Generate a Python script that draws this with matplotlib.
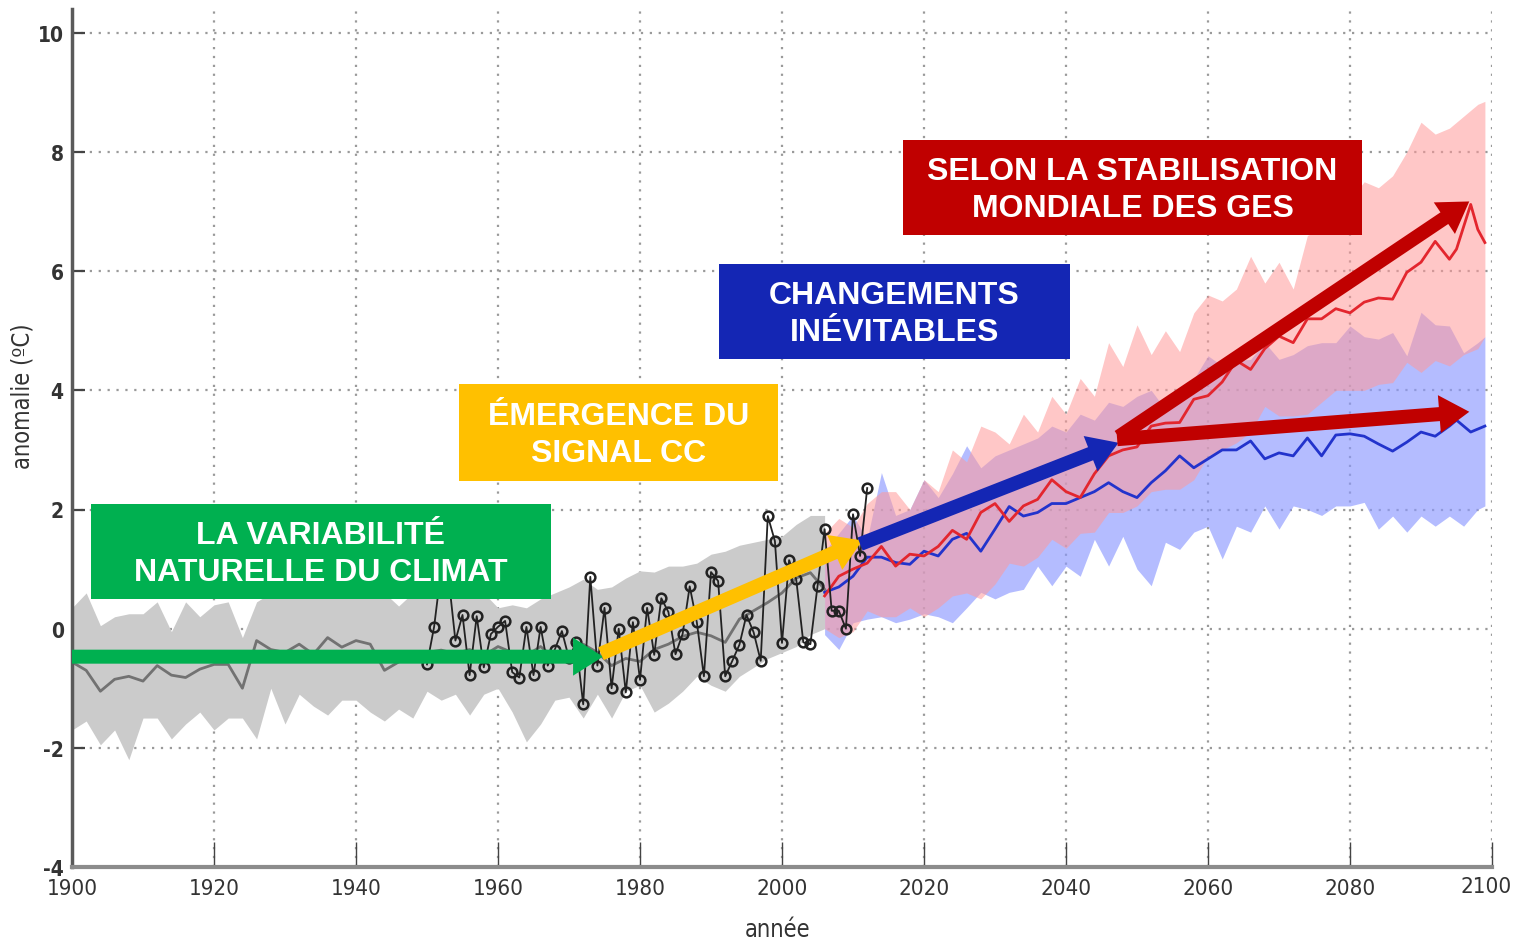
import matplotlib
matplotlib.use('Agg')
import matplotlib.pyplot as plt
from matplotlib.patches import Rectangle, FancyArrowPatch, ArrowStyle

plt.rcParams['axes.unicode_minus'] = False

# --- historical simulations (grey band + mean), every 2 years
hist_years = list(range(1900, 2008, 2))
gray_upper = [0.35, 0.6, 0.05, 0.2, 0.25, 0.25, 0.45, -0.05, 0.45, 0.2,
              0.4, 0.45, -0.15, 0.45, 0.6, 0.7, 0.6, 0.75, 0.6, 0.7,
              0.65, 0.7, 0.6, 0.38, 0.6, 0.8, 0.7, 0.75, 0.6, 0.6,
              0.35, 0.4, 0.35, 0.5, 0.6, 0.7, 0.83, 0.66, 0.7, 0.85,
              0.97, 0.95, 1.05, 1.05, 1.1, 1.25, 1.3, 1.4, 1.45, 1.5,
              1.55, 1.75, 1.9, 1.9]
gray_lower = [-1.7, -1.55, -1.95, -1.7, -2.2, -1.5, -1.5, -1.85, -1.6, -1.4,
              -1.7, -1.5, -1.5, -1.85, -1.0, -1.6, -1.1, -1.3, -1.45, -1.2,
              -1.2, -1.4, -1.55, -1.35, -1.5, -1.05, -1.2, -1.1, -1.45, -1.1,
              -1.0, -1.4, -1.9, -1.6, -1.2, -1.15, -1.5, -1.1, -1.5, -1.05,
              -0.95, -1.4, -1.25, -1.05, -0.8, -0.95, -1.05, -0.8, -0.65, -0.5,
              -0.4, -0.3, -0.1, 0.0]
gray_mean = [-0.56, -0.7, -1.05, -0.85, -0.8, -0.88, -0.62, -0.78, -0.82, -0.68,
             -0.6, -0.6, -1.0, -0.2, -0.35, -0.4, -0.26, -0.43, -0.15, -0.31,
             -0.2, -0.26, -0.7, -0.56, -0.45, -0.4, -0.36, -0.42, -0.35, -0.45,
             -0.3, -0.4, -0.45, -0.3, -0.5, -0.5, -0.26, -0.4, -0.62, -0.5,
             -0.55, -0.35, -0.26, -0.13, -0.06, -0.12, -0.23, 0.16, 0.3, 0.44,
             0.6, 0.85, 0.94, 0.66]

# --- observations (black line with circles)
obs_years = list(range(1950, 2013))
obs_values = [-0.6, 0.03, 1.0, 0.9, -0.2, 0.23, -0.78, 0.21, -0.65, -0.09,
              0.03, 0.13, -0.73, -0.82, 0.03, -0.78, 0.03, -0.62, -0.35, -0.04,
              -0.5, -0.23, -1.27, 0.87, -0.62, 0.35, -1.0, 0.0, -1.07, 0.11,
              -0.86, 0.35, -0.44, 0.51, 0.28, -0.43, -0.09, 0.71, 0.11, -0.8,
              0.95, 0.8, -0.8, -0.54, -0.27, 0.23, -0.06, -0.54, 1.89, 1.47,
              -0.24, 1.15, 0.83, -0.23, -0.26, 0.71, 1.67, 0.3, 0.3, 0.0,
              1.92, 1.22, 2.36]

# --- projections: bands
proj_years = list(range(2006, 2100, 2)) + [2099]
red_upper = [1.6, 1.85, 1.7, 2.1, 2.3, 2.3, 2.0, 2.5, 2.3, 3.0,
             2.8, 3.4, 3.3, 3.1, 3.6, 3.3, 3.9, 3.6, 4.2, 3.9,
             4.8, 4.4, 5.1, 4.6, 5.0, 4.65, 5.3, 5.6, 5.5, 5.7,
             6.25, 5.8, 6.15, 5.7, 6.6, 6.7, 7.35, 7.2, 7.5, 7.4,
             7.6, 8.0, 8.5, 8.3, 8.4, 8.6, 8.8, 8.85]
red_lower = [0.0, -0.15, -0.05, 0.3, 0.2, 0.2, 0.35, 0.2, 0.35, 0.55,
             0.6, 0.5, 0.75, 1.1, 1.05, 1.2, 1.5, 1.35, 1.6, 1.62,
             1.95, 1.95, 2.06, 2.3, 2.34, 2.34, 2.5, 2.9, 3.0, 3.12,
             3.3, 3.73, 3.57, 3.57, 3.6, 3.8, 4.0, 4.0, 4.0, 4.1,
             4.13, 4.47, 4.3, 4.5, 4.41, 4.6, 4.7, 4.9]
blue_upper = [1.3, 1.6, 1.9, 1.5, 2.62, 1.9, 2.0, 2.5, 2.2, 2.6,
              3.07, 2.7, 2.9, 3.0, 3.1, 3.2, 3.4, 3.3, 3.6, 3.5,
              3.8, 3.73, 3.9, 4.0, 3.68, 4.0, 4.19, 4.58, 4.41, 4.5,
              4.52, 4.8, 4.52, 4.6, 4.75, 4.8, 4.8, 5.08, 4.9, 4.86,
              4.97, 4.58, 5.31, 5.1, 5.08, 4.63, 4.8, 4.9]
blue_lower = [-0.1, -0.35, 0.1, 0.16, 0.2, 0.1, 0.16, 0.25, 0.2, 0.1,
              0.35, 0.61, 0.5, 0.61, 0.66, 1.05, 0.72, 1.05, 0.88, 1.5,
              1.05, 1.55, 1.0, 0.72, 1.45, 1.33, 1.62, 1.72, 1.17, 1.72,
              1.62, 2.06, 1.67, 2.06, 2.0, 1.9, 2.06, 2.06, 2.12, 1.67,
              1.89, 1.62, 1.89, 1.72, 1.89, 1.72, 2.0, 2.06]

# --- projections: ensemble means
line_years = list(range(2006, 2094, 2)) + [2094, 2095, 2097, 2098, 2099]
red_line = [0.55, 0.88, 1.0, 1.1, 1.38, 1.05, 1.25, 1.22, 1.38, 1.65,
            1.5, 1.95, 2.1, 1.8, 2.06, 2.17, 2.5, 2.3, 2.2, 2.6,
            2.9, 3.0, 3.05, 3.4, 3.45, 3.46, 3.85, 3.91, 4.14, 4.5,
            4.35, 4.7, 4.91, 4.8, 5.2, 5.2, 5.37, 5.3, 5.48, 5.55,
            5.53, 5.98, 6.15, 6.5,
            6.2, 6.37, 7.12, 6.7, 6.48]
blue_line = [0.61, 0.7, 0.88, 1.2, 1.2, 1.11, 1.08, 1.3, 1.22, 1.5,
             1.6, 1.3, 1.67, 2.05, 1.89, 1.95, 2.1, 2.1, 2.2, 2.3,
             2.45, 2.3, 2.2, 2.45, 2.65, 2.9, 2.7, 2.85, 3.0, 3.0,
             3.15, 2.85, 2.95, 2.9, 3.2, 2.9, 3.25, 3.27, 3.23, 3.1,
             2.98, 3.13, 3.3, 3.23,
             3.4, 3.5, 3.3, 3.35, 3.4]

x_ticks = list(range(1900, 2101, 20))
y_ticks = list(range(-4, 11, 2))

# arrows: (start, end, colour), in data units
arrows = [
    ((1900, -0.47), (1974.8, -0.47), '#00B050'),
    ((1974.5, -0.42), (2011.3, 1.48), '#FFC000'),
    ((2011.0, 1.42), (2047.4, 3.12), '#1426B4'),
    ((2047.4, 3.22), (2096.8, 7.17), '#C00000'),
    ((2047.2, 3.18), (2096.8, 3.64), '#C00000'),
]

# label boxes: pixel box (x0, y0, x1, y1), colour, text
boxes = [
    ((91, 505, 551, 600), '#00B050', 'LA VARIABILITÉ\nNATURELLE DU CLIMAT'),
    ((459, 385, 778, 482), '#FFC000', 'ÉMERGENCE DU\nSIGNAL CC'),
    ((719, 265, 1070, 360), '#1426B4', 'CHANGEMENTS\nINÉVITABLES'),
    ((903, 141, 1362, 236), '#C00000', 'SELON LA STABILISATION\nMONDIALE DES GES'),
]

W, H = 1514, 945
cond = dict(family='DejaVu Sans', stretch='condensed')

fig = plt.figure(figsize=(W / 100, H / 100), dpi=100)
ax = fig.add_axes([72 / W, 77 / H, 1420 / W, 858 / H])

# historical
ax.fill_between(hist_years, gray_lower, gray_upper, color='#cbcbcb', lw=0, zorder=1)
ax.plot(hist_years, gray_mean, color='#727272', lw=2, zorder=2)

# projections
ax.fill_between(proj_years, blue_lower, blue_upper, color=(0.55, 0.6, 1.0), alpha=0.65, lw=0, zorder=1)
ax.fill_between(proj_years, red_lower, red_upper, color=(1.0, 0.6, 0.6), alpha=0.55, lw=0, zorder=1)
ax.plot(line_years, blue_line, color='#2233cc', lw=2, zorder=3)
ax.plot(line_years, red_line, color='#e3262e', lw=2, zorder=3)

ax.plot(obs_years, obs_values, color='#222222', lw=1.3, marker='o', ms=7,
        mfc='none', mec='#222222', mew=1.8, zorder=4)

for (x0, y0), (x1, y1), c in arrows:
    style = ArrowStyle.Simple(head_length=0.30, head_width=0.38, tail_width=0.14)
    ax.add_patch(FancyArrowPatch((x0, y0), (x1, y1), arrowstyle=style,
                                 mutation_scale=72, color=c, lw=0,
                                 shrinkA=0, shrinkB=0, zorder=6))

ax.set_xlim(1900, 2100)
ax.set_ylim(-4, 10.4)
ax.set_xticks(x_ticks)
ax.set_xticklabels([str(t) for t in x_ticks[:-1]] + [''])
ax.set_yticks(y_ticks)
ax.grid(True, linestyle=(0, (1, 3)), color='#9a9a9a', lw=1.6, zorder=0)
ax.set_axisbelow(True)

for s in ['top', 'right']:
    ax.spines[s].set_visible(False)
ax.spines['left'].set_color('#5a5a5a')
ax.spines['left'].set_linewidth(2.5)
ax.spines['bottom'].set_color('#8c8c8c')
ax.spines['bottom'].set_linewidth(3)

ax.tick_params(axis='y', direction='in', length=9, width=1.6, color='#444444', pad=6)
ax.tick_params(axis='x', direction='in', length=18, width=1, color='#444444', pad=8)
for lab in ax.get_yticklabels():
    lab.set(fontsize=15, fontweight='bold', color='#333333', **cond)
for lab in ax.get_xticklabels():
    lab.set(fontsize=16, color='#333333', **cond)
# last year label sits against the right edge of the picture
fig.text(1512 / W, 1 - 877 / H, str(x_ticks[-1]), ha='right', va='top',
         fontsize=16, color='#333333', **cond)

ax.set_ylabel('anomalie (ºC)', fontsize=17, color='#333333', va='center', **cond)
ax.yaxis.set_label_coords(-0.035, 0.55)
ax.set_xlabel('année', fontsize=17, color='#333333', va='center', **cond)
ax.xaxis.set_label_coords(0.497, -0.072)

for (x0, y0, x1, y1), c, txt in boxes:
    fig.add_artist(Rectangle((x0 / W, 1 - y1 / H), (x1 - x0) / W, (y1 - y0) / H,
                             transform=fig.transFigure, color=c, lw=0, zorder=5))
    fig.text((x0 + x1) / 2 / W, 1 - ((y0 + y1) / 2 + 2) / H, txt, ha='center', va='center',
             ma='center', color='white', fontsize=23, fontweight='bold',
             family='Liberation Sans', linespacing=1.3, zorder=6)

fig.savefig('out.png', dpi=100)
